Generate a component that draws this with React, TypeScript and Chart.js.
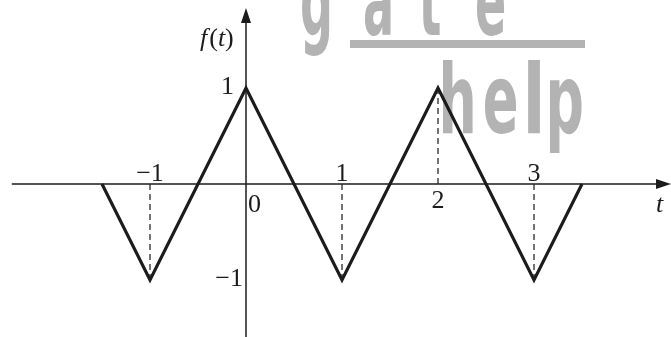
import React, { useEffect, useRef } from "react";
import { Chart, registerables } from "chart.js";

Chart.register(...registerables);

// ---- data ----
const tValues = [-1.5, -1, 0, 1, 2, 3, 3.5];
const fValues = [0, -1, 1, -1, 1, -1, 0];

// x tick labels (placed on the t axis)
const xTickValues = [-1, 1, 2, 3];
const xTickLabels = ["\u22121", "1", "2", "3"];
const xTickAbove = [true, true, false, true];
// dashed guide lines drop from the curve at these t values
const guideTs = [-1, 1, 2, 3];

// y tick labels
const yTickValues = [1, -1];
const yTickLabels = ["1", "\u22121"];

// axis extents
const tMin = -2.5625;
const tMax = 4.427;
const fMin = -1.594;
const fMax = 1.917;
const axisStartT = -2.44;

const fAt = (t: number) => {
  for (let i = 0; i < tValues.length - 1; i++) {
    if (t >= tValues[i] && t <= tValues[i + 1]) {
      const r = (t - tValues[i]) / (tValues[i + 1] - tValues[i]);
      return fValues[i] + r * (fValues[i + 1] - fValues[i]);
    }
  }
  return 0;
};

const INK = "#1c1c1c";
const SERIF = "'Liberation Serif', 'DejaVu Serif', serif";
const FS = 26;

const decorPlugin = {
  id: "decor",
  beforeDatasetsDraw(chart: any) {
    const ctx = chart.ctx;
    const xs = chart.scales.x;
    const ys = chart.scales.y;
    const x0 = xs.getPixelForValue(0);
    const y0 = ys.getPixelForValue(0);
    const W = chart.width;
    const H = chart.height;

    // watermark
    ctx.save();
    ctx.fillStyle = "#b3b3b3";
    ctx.font = "bold 96px 'DejaVu Sans', sans-serif";
    ctx.textBaseline = "alphabetic";
    const drawLetter = (ch: string, x: number, base: number, sx: number) => {
      ctx.save();
      ctx.translate(x, base);
      ctx.scale(sx, 1);
      const m = ctx.measureText(ch);
      ctx.fillText(ch, m.actualBoundingBoxLeft, 0);
      ctx.restore();
    };
    drawLetter("g", 302, 35, 0.48);
    drawLetter("a", 365, 35, 0.48);
    drawLetter("t", 419, 35, 0.5);
    drawLetter("e", 477, 35, 0.48);
    ctx.fillRect(350, 40, 235, 8);
    drawLetter("h", 443, 133, 0.56);
    drawLetter("e", 485, 133, 0.55);
    drawLetter("l", 528, 133, 0.7);
    drawLetter("p", 550, 133, 0.56);
    ctx.restore();

    // axes
    ctx.save();
    ctx.strokeStyle = INK;
    ctx.fillStyle = INK;
    ctx.lineWidth = 1.5;
    const ax = xs.getPixelForValue(axisStartT);
    ctx.beginPath();
    ctx.moveTo(ax, y0);
    ctx.lineTo(W - 10, y0);
    ctx.moveTo(x0, H);
    ctx.lineTo(x0, 20);
    ctx.stroke();
    // arrow heads
    ctx.beginPath();
    ctx.moveTo(W, y0);
    ctx.lineTo(W - 15, y0 - 5);
    ctx.lineTo(W - 15, y0 + 5);
    ctx.closePath();
    ctx.fill();
    ctx.beginPath();
    ctx.moveTo(x0, 8);
    ctx.lineTo(x0 - 5, 23);
    ctx.lineTo(x0 + 5, 23);
    ctx.closePath();
    ctx.fill();
    ctx.restore();
  },
  afterDraw(chart: any) {
    const ctx = chart.ctx;
    const xs = chart.scales.x;
    const ys = chart.scales.y;
    const x0 = xs.getPixelForValue(0);
    const y0 = ys.getPixelForValue(0);
    ctx.save();
    ctx.fillStyle = INK;
    ctx.font = `${FS}px ${SERIF}`;
    ctx.textBaseline = "alphabetic";

    // x tick labels
    ctx.textAlign = "center";
    xTickValues.forEach((v, i) => {
      const px = xs.getPixelForValue(v);
      if (xTickAbove[i]) {
        ctx.fillText(xTickLabels[i], px, y0 - 3);
      } else {
        ctx.fillText(xTickLabels[i], px, y0 + 24);
      }
    });
    // origin label
    ctx.textAlign = "left";
    ctx.fillText("0", x0 + 2, y0 + 28);

    // y tick labels
    ctx.textAlign = "right";
    yTickValues.forEach((v, i) => {
      const py = ys.getPixelForValue(v);
      const dx = v > 0 ? 12 : 3;
      ctx.fillText(yTickLabels[i], x0 - dx, py + 6);
    });

    // axis names
    ctx.textAlign = "left";
    ctx.font = `italic ${FS}px ${SERIF}`;
    ctx.fillText("t", 656, y0 + 28);

    let cx = 200;
    const by = 46;
    const parts: [string, boolean][] = [["f", true], ["(", false], ["t", true], [")", false]];
    parts.forEach(([s, it]) => {
      ctx.font = `${it ? "italic " : ""}${FS}px ${SERIF}`;
      ctx.fillText(s, cx, by);
      cx += ctx.measureText(s).width + (s === "f" ? 2 : 0);
    });
    ctx.restore();
  },
};

export default function App() {
  const ref = useRef<HTMLCanvasElement | null>(null);
  useEffect(() => {
    document.body.style.margin = "0";
    const canvas = ref.current;
    if (!canvas) return;
    const wave = tValues.map((t, i) => ({ x: t, y: fValues[i] }));
    const guides = guideTs.map((t) => ({
      data: [
        { x: t, y: 0 },
        { x: t, y: fAt(t) },
      ],
      borderColor: "#2a2a2a",
      borderWidth: 1.3,
      borderDash: [6, 4],
      pointRadius: 0,
      showLine: true,
      fill: false,
    }));
    const chart = new Chart(canvas, {
      type: "scatter",
      data: {
        datasets: [
          {
            data: wave,
            borderColor: INK,
            borderWidth: 3.2,
            borderJoinStyle: "miter",
            pointRadius: 0,
            showLine: true,
            fill: false,
          } as any,
          ...(guides as any[]),
        ],
      },
      options: {
        responsive: false,
        animation: false,
        events: [],
        layout: { padding: 0 },
        plugins: { legend: { display: false }, tooltip: { enabled: false } },
        scales: {
          x: { type: "linear", min: tMin, max: tMax, display: false },
          y: { type: "linear", min: fMin, max: fMax, display: false },
        },
      },
      plugins: [decorPlugin],
    });
    return () => chart.destroy();
  }, []);
  return (
    <div style={{ width: 671, height: 337, background: "#fff" }}>
      <canvas ref={ref} width={671} height={337} style={{ display: "block" }} />
    </div>
  );
}
